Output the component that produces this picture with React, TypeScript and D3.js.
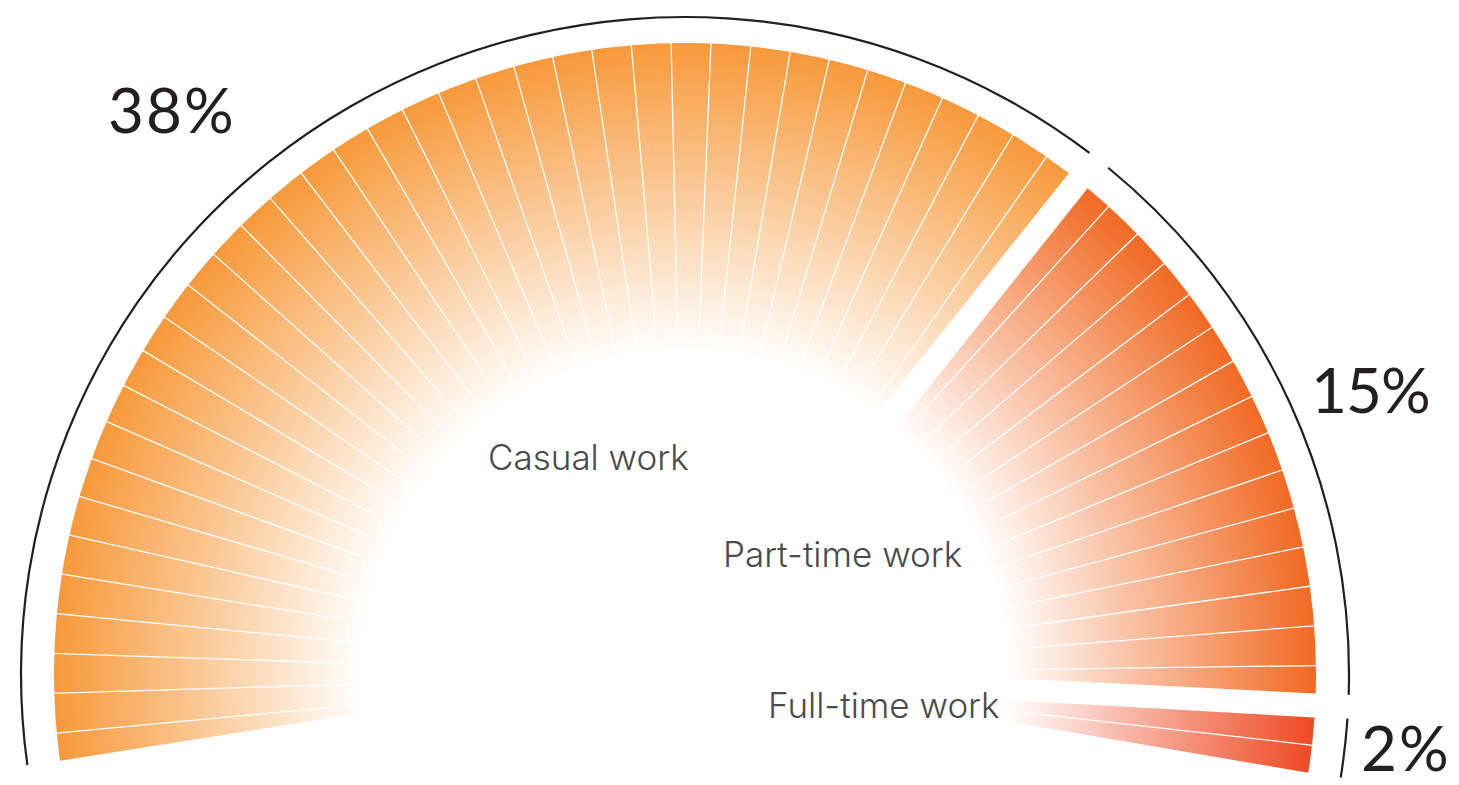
import * as d3 from "d3";

// chart values
const categories = ["Casual work", "Part-time work", "Full-time work"];
const shares = [38, 15, 2];
const shareLabels = ["38%", "15%", "2%"];
const colors = ["#F7993A", "#F16A24", "#EE4A24"];

// layout
const W = 1459;
const H = 785;
const cx = 685;
const cy = 674;
const R = 631;
const innerR = 140;
const ringR = 664;
const ringSquash = 657 / 664;
const startDeg = -99;
const endDeg = 100.1;
const gapPx = 24;

const catLabelPos = [
  { x: 488, y: 470 },
  { x: 723, y: 567 },
  { x: 768, y: 718 },
];
const pctLabelPos = [
  { x: 108, y: 133, ls: 2 },
  { x: 1311, y: 413, ls: -1 },
  { x: 1361, y: 771, ls: 2 },
];

const rad = (d: number) => (d * Math.PI) / 180;

export default function App() {
  const total = d3.sum(shares);
  const angle = d3
    .scaleLinear()
    .domain([0, total])
    .range([rad(startDeg), rad(endDeg)]);

  const offsets = [0, ...Array.from(d3.cumsum(shares))];
  const groups = shares.map((v, i) => ({
    i,
    value: v,
    from: offsets[i],
    to: offsets[i] + v,
  }));

  const wedge = d3
    .arc<any>()
    .innerRadius(innerR)
    .outerRadius(R)
    .padRadius(R)
    .padAngle(gapPx / R)
    .startAngle((d) => angle(d.from))
    .endAngle((d) => angle(d.to));

  const ring = d3
    .arc<any>()
    .innerRadius(ringR - 1.1)
    .outerRadius(ringR + 1.1)
    .padRadius(ringR)
    .padAngle(gapPx / ringR)
    .startAngle((d) => angle(d.from))
    .endAngle((d) => angle(d.to));

  // thin white dividers between the 1% slices inside each group
  const dividers = groups.flatMap((g) =>
    d3.range(g.from + 1, g.to).map((k) => ({ g: g.i, a: angle(k) }))
  );

  return (
    <svg
      width={W}
      height={H}
      viewBox={`0 0 ${W} ${H}`}
      style={{ position: "absolute", left: 0, top: 0, background: "#fff" }}
    >
      <defs>
        {groups.map((g) => (
          <radialGradient
            key={g.i}
            id={`grad${g.i}`}
            gradientUnits="userSpaceOnUse"
            cx={0}
            cy={0}
            r={R}
          >
            <stop offset={0.51} stopColor="#fff" />
            <stop offset={1} stopColor={colors[g.i]} />
          </radialGradient>
        ))}
      </defs>

      <g transform={`translate(${cx},${cy})`}>
        {groups.map((g) => (
          <path key={g.i} d={wedge(g) ?? ""} fill={`url(#grad${g.i})`} />
        ))}
        {dividers.map((d, j) => (
          <line
            key={j}
            x1={Math.sin(d.a) * 200}
            y1={-Math.cos(d.a) * 200}
            x2={Math.sin(d.a) * (R + 3)}
            y2={-Math.cos(d.a) * (R + 3)}
            stroke="#fff"
            strokeWidth={1.3}
          />
        ))}
      </g>

      <g transform={`translate(${cx},${cy}) scale(1,${ringSquash})`}>
        {groups.map((g) => (
          <path key={g.i} d={ring(g) ?? ""} fill="#231F20" />
        ))}
      </g>

      {categories.map((c, i) => (
        <text
          key={c}
          x={catLabelPos[i].x}
          y={catLabelPos[i].y}
          fontFamily="Inter, 'Noto Sans', sans-serif"
          fontWeight={300}
          fontSize={35}
          fill="#4A4A4C"
        >
          {c}
        </text>
      ))}

      {shareLabels.map((s, i) => (
        <text
          key={s}
          x={pctLabelPos[i].x}
          y={pctLabelPos[i].y}
          fontFamily="Lato, 'Noto Sans', sans-serif"
          fontWeight={400}
          fontSize={62}
          letterSpacing={pctLabelPos[i].ls}
          fill="#231F20"
        >
          {s}
        </text>
      ))}
    </svg>
  );
}
